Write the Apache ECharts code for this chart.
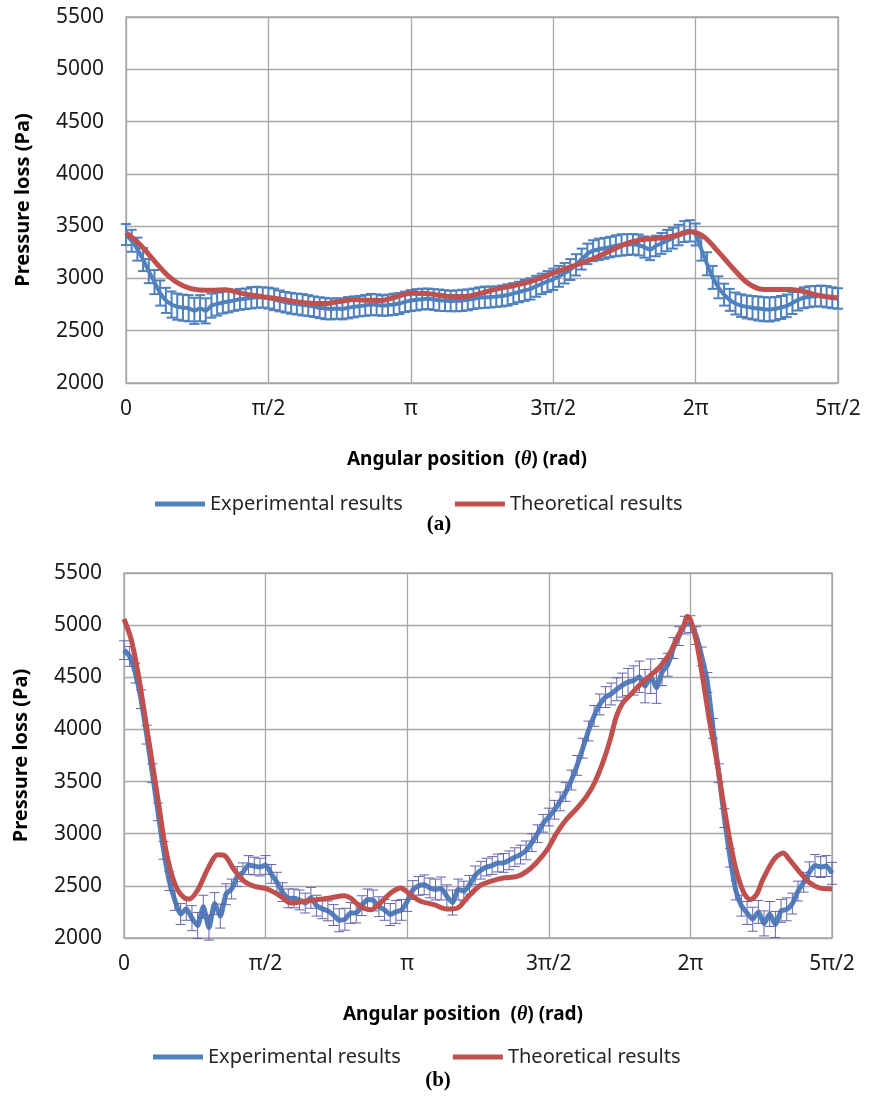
<!DOCTYPE html>
<html>
<head>
<meta charset="utf-8">
<script src="https://cdn.jsdelivr.net/npm/echarts@6/dist/echarts.min.js"></script>
<style>
html,body{margin:0;padding:0;background:#fff;}
#chart{width:886px;height:1099px;}
</style>
</head>
<body>
<div id="chart"></div>
<script>
// ---------- DATA ----------
const xTickLabels = ['0', 'π/2', 'π', '3π/2', '2π', '5π/2'];   // at 0,90,...,450 degrees
const yTicks = [2000, 2500, 3000, 3500, 4000, 4500, 5000, 5500];

// angular positions of measured points (degrees)
const thetaExp = [
  0,3.6,7.2,10.8,14.4,18,21.6,25.2,28.8,32.4,
  36,39.6,43.2,46.8,50.4,54,57.6,61.2,64.8,68.4,
  72,75.6,79.2,82.8,86.4,90,93.6,97.2,100.8,104.4,
  108,111.6,115.2,118.8,122.4,126,129.6,133.2,136.8,140.4,
  144,147.6,151.2,154.8,158.4,162,165.6,169.2,172.8,176.4,
  180,183.6,187.2,190.8,194.4,198,201.6,205.2,208.8,212.4,
  216,219.6,223.2,226.8,230.4,234,237.6,241.2,244.8,248.4,
  252,255.6,259.2,262.8,266.4,270,273.6,277.2,280.8,284.4,
  288,291.6,295.2,298.8,302.4,306,309.6,313.2,316.8,320.4,
  324,327.6,331.2,334.8,338.4,342,345.6,349.2,352.8,356.4,
  360,363.6,367.2,370.8,374.4,378,381.6,385.2,388.8,392.4,
  396,399.6,403.2,406.8,410.4,414,417.6,421.2,424.8,428.4,
  432,435.6,439.2,442.8,446.4,450
];

// (a) experimental pressure loss (Pa) and error
const expA = [
  3420,3360,3280,3180,3070,2965,2860,2790,2750,2730,
  2720,2715,2690,2715,2690,2740,2755,2770,2780,2790,
  2800,2805,2815,2820,2818,2812,2800,2785,2772,2762,
  2755,2748,2740,2730,2720,2712,2708,2712,2708,2720,
  2728,2735,2742,2750,2748,2740,2745,2752,2760,2776,
  2788,2796,2802,2805,2798,2792,2788,2784,2786,2790,
  2795,2805,2815,2820,2822,2826,2832,2842,2855,2870,
  2885,2900,2925,2948,2970,2992,3020,3050,3085,3130,
  3185,3235,3265,3278,3288,3300,3312,3320,3324,3326,
  3320,3300,3275,3310,3335,3362,3385,3415,3448,3455,
  3420,3280,3140,3010,2915,2845,2795,2760,2740,2728,
  2720,2712,2706,2703,2710,2722,2738,2765,2795,2815,
  2825,2830,2832,2825,2815,2808
];
const errA = [
  100,105,110,110,115,115,120,120,125,125,
  125,125,125,125,120,115,110,105,105,100,
  100,98,102,100,97,100,103,100,98,100,
  100,102,100,98,100,102,100,98,100,102,
  100,98,100,102,100,98,100,102,100,98,
  100,102,100,98,100,102,100,98,100,102,
  100,98,100,102,100,98,100,102,100,98,
  100,102,100,98,100,102,100,98,100,102,
  100,98,100,102,100,98,100,102,100,98,
  100,102,100,98,100,102,100,98,100,102,
  105,110,110,110,105,105,105,105,108,110,
  112,115,115,115,112,110,108,105,102,100,
  100,98,100,102,100,98
];
// (a) theoretical
const thetaTheoA = [0,9,18,27,36,45,54,63,72,81,90,99,108,117,126,135,144,153,162,171,
  180,189,198,207,216,225,234,243,252,261,270,279,288,297,306,315,324,333,342,351,
  357,360,366,375,384,393,402,411,420,429,438,450];
const pTheoA = [3436,3322,3165,3020,2930,2892,2888,2892,2862,2836,2818,2798,2777,2762,2760,2780,2798,2791,2790,2825,
  2858,2856,2840,2826,2830,2862,2898,2925,2955,2998,3050,3100,3148,3200,3262,3325,3365,3380,3394,3425,
  3446,3440,3390,3245,3090,2955,2896,2893,2893,2873,2837,2812];

// (b) experimental pressure loss (Pa) and error
const expB = [
  4760,4700,4540,4290,3950,3580,3210,2840,2545,2360,
  2230,2280,2190,2120,2300,2100,2330,2210,2420,2470,
  2590,2630,2700,2690,2680,2700,2615,2535,2440,2380,
  2380,2365,2335,2385,2310,2280,2260,2220,2170,2180,
  2240,2240,2310,2370,2360,2300,2270,2225,2250,2270,
  2350,2460,2500,2510,2480,2465,2475,2400,2340,2465,
  2450,2510,2600,2650,2680,2695,2719,2720,2745,2775,
  2800,2840,2915,3000,3100,3160,3230,3310,3400,3515,
  3655,3820,3985,4130,4240,4310,4340,4385,4425,4455,
  4470,4505,4415,4510,4400,4550,4620,4780,4895,5000,
  5010,4900,4700,4450,4010,3580,3150,2770,2460,2310,
  2240,2180,2250,2140,2230,2130,2260,2275,2330,2450,
  2535,2630,2695,2680,2690,2620
];
const errB = [
  90,95,95,90,90,90,85,85,90,95,
  100,110,120,125,110,120,105,115,100,95,
  95,90,90,85,85,90,90,95,90,90,
  90,95,95,100,100,95,95,100,110,105,
  100,95,95,100,100,95,100,105,110,100,
  95,90,90,95,95,100,110,110,120,100,
  95,90,90,85,85,85,85,90,90,90,
  90,90,85,85,85,85,90,90,90,95,
  95,95,95,100,100,100,105,110,115,130,
  140,150,160,165,150,130,110,100,90,85,
  80,85,90,95,95,90,90,90,95,100,
  110,115,110,120,120,125,110,110,100,95,
  95,100,105,100,100,105
];
// (b) theoretical
const thetaTheoB = [0,4.6,8.9,13,17.3,21.6,25.8,30,34,38.5,41.6,47,53,59.6,64,70,76.5,83,91,99.7,
  106,114.5,123,131,140,144,150,157,163,169.5,176,182,188.5,197,205,212,218,226,233,241,
  250,256,262,269,275,281,288,294,299,305,309,313,317,322,328,334,341,347,351,356,
  358,360,364,368,372,377,381,385,389,394,398,402,406,413,419,423,430,436,442,450];
const pTheoB = [5059,4861,4542,4158,3742,3327,2911,2623,2464,2384,2374,2464,2655,2799,2790,2655,2543,2495,2470,2400,
  2336,2352,2368,2384,2406,2384,2304,2272,2336,2432,2480,2416,2352,2320,2278,2288,2384,2500,2543,2575,
  2591,2639,2719,2847,3006,3134,3246,3358,3486,3710,3902,4126,4254,4334,4430,4510,4606,4734,4862,5006,
  5086,5054,4830,4478,4094,3678,3294,2943,2655,2432,2368,2416,2559,2751,2815,2751,2623,2527,2480,2470];

// ---------- CHART ----------
const BLUE = '#4F81BD', RED = '#C0504D', ERR_B = '#6464AE', GRID = '#a6a6a6';
const FONT = 'Noto Sans';

function pairs(xs, ys) { return xs.map((x, i) => [x, ys[i]]); }
function errData(xs, ys, es) { return xs.map((x, i) => [x, ys[i] - es[i], ys[i] + es[i]]); }
function errRender(capHalf, color, width) {
  return function (params, api) {
    const x = api.value(0);
    const lo = api.coord([x, api.value(1)]);
    const hi = api.coord([x, api.value(2)]);
    const st = { stroke: color, lineWidth: width };
    return { type: 'group', children: [
      { type: 'line', shape: { x1: lo[0], y1: lo[1], x2: hi[0], y2: hi[1] }, style: st },
      { type: 'line', shape: { x1: lo[0] - capHalf, y1: lo[1], x2: lo[0] + capHalf, y2: lo[1] }, style: st },
      { type: 'line', shape: { x1: hi[0] - capHalf, y1: hi[1], x2: hi[0] + capHalf, y2: hi[1] }, style: st }
    ]};
  };
}

function xAxisCfg(gi) {
  return {
    gridIndex: gi, type: 'value', min: 0, max: 450, interval: 90,
    axisLine: { show: false }, axisTick: { show: false },
    splitLine: { show: true, lineStyle: { color: GRID, width: 1.3 } },
    axisLabel: { fontSize: 21, fontFamily: FONT, color: '#1a1a1a', margin: 16,
      formatter: v => xTickLabels[Math.round(v / 90)] },
    name: 'Angular position  ({t|θ}) (rad)', nameLocation: 'middle', nameGap: 67,
    nameTextStyle: { fontSize: 19, fontWeight: 'bold', fontFamily: FONT, color: '#000', padding: [0, 30, 0, 0],
      rich: { t: { fontSize: 20, fontWeight: 'bold', fontStyle: 'italic', fontFamily: 'Liberation Serif', color: '#000' } } }
  };
}
function yAxisCfg(gi) {
  return {
    gridIndex: gi, type: 'value', min: yTicks[0], max: yTicks[yTicks.length - 1], interval: yTicks[1] - yTicks[0],
    axisLine: { show: false }, axisTick: { show: false },
    splitLine: { show: true, lineStyle: { color: GRID, width: 1.3 } },
    axisLabel: { fontSize: 21, fontFamily: FONT, color: '#1a1a1a', margin: 22, formatter: v => String(v) },
    name: 'Pressure loss (Pa)', nameLocation: 'middle', nameGap: 93,
    nameTextStyle: { fontSize: 20, fontWeight: 'bold', fontFamily: FONT, color: '#000' }
  };
}
function legendCfg(top, left) {
  return {
    data: ['Experimental results', 'Theoretical results'], left: left, top: top,
    icon: 'rect', itemWidth: 50, itemHeight: 5, itemGap: 52,
    textStyle: { fontSize: 20, fontFamily: FONT, color: '#262626' },
    selectedMode: false
  };
}

const chart = echarts.init(document.getElementById('chart'), null, { renderer: 'canvas' });
chart.setOption({
  animation: false,
  backgroundColor: '#fff',
  grid: [
    { left: 126, top: 17, width: 712, height: 366, show: true, borderColor: GRID, borderWidth: 1.3 },
    { left: 124, top: 573, width: 708, height: 365, show: true, borderColor: GRID, borderWidth: 1.3 }
  ],
  xAxis: [xAxisCfg(0), xAxisCfg(1)],
  yAxis: [yAxisCfg(0), yAxisCfg(1)],
  legend: [legendCfg(489, 150), legendCfg(1042, 148)],
  graphic: [
    { type: 'text', x: 439, y: 525, style: { text: '(a)', font: 'bold 21px "Liberation Serif"', fill: '#000', align: 'center', verticalAlign: 'middle' } },
    { type: 'text', x: 438, y: 1081, style: { text: '(b)', font: 'bold 21px "Liberation Serif"', fill: '#000', align: 'center', verticalAlign: 'middle' } }
  ],
  series: [
    { type: 'line', name: 'Experimental results', xAxisIndex: 0, yAxisIndex: 0, data: pairs(thetaExp, expA),
      symbol: 'none', smooth: 0.2, color: BLUE, lineStyle: { width: 4 }, z: 2 },
    { type: 'custom', xAxisIndex: 0, yAxisIndex: 0, data: errData(thetaExp, expA, errA),
      renderItem: errRender(5, BLUE, 2), encode: { x: 0, y: [1, 2] }, z: 3, silent: true, clip: false },
    { type: 'line', name: 'Theoretical results', xAxisIndex: 0, yAxisIndex: 0, data: pairs(thetaTheoA, pTheoA),
      symbol: 'none', smooth: 0.3, color: RED, lineStyle: { width: 5 }, z: 4 },

    { type: 'line', name: 'Experimental results', xAxisIndex: 1, yAxisIndex: 1, data: pairs(thetaExp, expB),
      symbol: 'none', smooth: 0.2, color: BLUE, lineStyle: { width: 5 }, z: 2 },
    { type: 'custom', xAxisIndex: 1, yAxisIndex: 1, data: errData(thetaExp, expB, errB),
      renderItem: errRender(5, ERR_B, 1), encode: { x: 0, y: [1, 2] }, z: 3, silent: true, clip: false },
    { type: 'line', name: 'Theoretical results', xAxisIndex: 1, yAxisIndex: 1, data: pairs(thetaTheoB, pTheoB),
      symbol: 'none', smooth: 0.3, color: RED, lineStyle: { width: 5 }, z: 4 }
  ]
});
</script>
</body>
</html>
